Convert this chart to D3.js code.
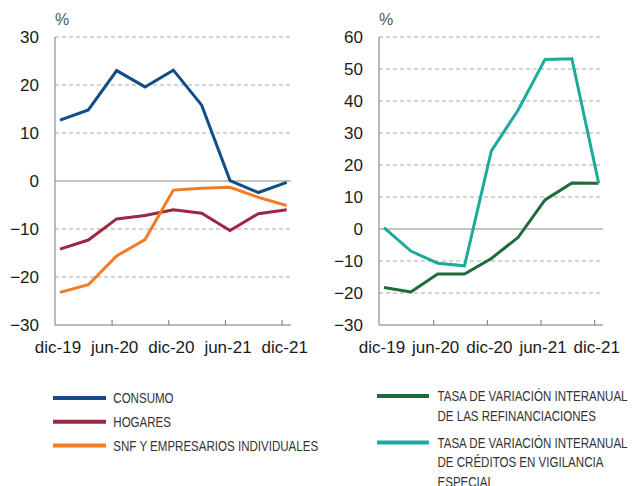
<!DOCTYPE html>
<html>
<head>
<meta charset="utf-8">
<script src="https://cdn.jsdelivr.net/npm/d3@7"></script>
<style>
  html, body { margin: 0; padding: 0; background: #fff; }
  svg { display: block; }
</style>
</head>
<body>
<svg id="chart" width="632" height="486"></svg>
<script>
// ---- Data ----
const periods = ["dic-19", "mar-20", "jun-20", "sep-20", "dic-20", "mar-21", "jun-21", "sep-21", "dic-21"];
const xTickLabels = ["dic-19", "jun-20", "dic-20", "jun-21", "dic-21"];

const consumo = [12.7, 14.8, 23.0, 19.6, 23.1, 15.8, 0.1, -2.4, -0.3];
const hogares = [-14.2, -12.3, -7.9, -7.2, -6.0, -6.7, -10.3, -6.8, -6.0];
const snf = [-23.2, -21.6, -15.6, -12.2, -1.9, -1.5, -1.3, -3.4, -5.1];

const refinanciaciones = [-18.3, -19.7, -14.1, -14.1, -9.2, -2.6, 9.1, 14.4, 14.3];
const vigilancia = [0.4, -6.9, -10.7, -11.5, 24.4, 37.2, 53.0, 53.2, 14.3];

const leftTicks = [-30, -20, -10, 0, 10, 20, 30];
const rightTicks = [-30, -20, -10, 0, 10, 20, 30, 40, 50, 60];

const leftSeries = [
  { name: ["CONSUMO"], values: consumo, color: "#124d85" },
  { name: ["HOGARES"], values: hogares, color: "#9c2843" },
  { name: ["SNF Y EMPRESARIOS INDIVIDUALES"], values: snf, color: "#f37b24" }
];
const rightSeries = [
  { name: ["TASA DE VARIACIÓN INTERANUAL", "DE LAS REFINANCIACIONES"], values: refinanciaciones, color: "#1d6b3b" },
  { name: ["TASA DE VARIACIÓN INTERANUAL", "DE CRÉDITOS EN VIGILANCIA", "ESPECIAL"], values: vigilancia, color: "#1baa9c" }
];

const svg = d3.select("#chart");
const baseFont = "'Liberation Sans', Arial, sans-serif";

function panel(cfg) {
  const g = svg.append("g");
  const x = d3.scaleLinear().domain([0, periods.length - 1]).range([cfg.x0, cfg.x1]);
  const y = d3.scaleLinear().domain([cfg.ticks[0], cfg.ticks[cfg.ticks.length - 1]]).range([325, 37]);

  // gridlines
  g.selectAll("line.grid").data(cfg.ticks.filter(t => t !== cfg.ticks[0]))
    .enter().append("line")
    .attr("x1", cfg.axisX).attr("x2", cfg.gridEnd)
    .attr("y1", d => y(d)).attr("y2", d => y(d))
    .attr("stroke", d => d === 0 ? "#8a8a8a" : "#a8a8a8")
    .attr("stroke-width", 1)
    .attr("stroke-dasharray", d => d === 0 ? null : "4,3");

  // y axis
  const yAxis = d3.axisLeft(y).tickValues(cfg.ticks).tickSize(0).tickPadding(16).tickFormat(d3.format("d"));
  const ya = g.append("g").attr("transform", `translate(${cfg.axisX},0)`).call(yAxis);
  ya.select(".domain").remove();
  ya.selectAll("text").attr("font-size", 17).attr("fill", "#1a1a1a").attr("font-family", baseFont);
  g.append("line").attr("x1", cfg.axisX).attr("x2", cfg.axisX).attr("y1", y(cfg.ticks[cfg.ticks.length - 1])).attr("y2", 325)
    .attr("stroke", "#777").attr("stroke-width", 1);

  // x axis
  g.append("line").attr("x1", cfg.axisX).attr("x2", cfg.gridEnd).attr("y1", 325).attr("y2", 325)
    .attr("stroke", "#777").attr("stroke-width", 1);
  const tickIdx = [0, 2, 4, 6, 8];
  g.selectAll("line.xt").data(tickIdx.slice(1)).enter().append("line")
    .attr("x1", d => x(d) - cfg.tickOff).attr("x2", d => x(d) - cfg.tickOff)
    .attr("y1", 325).attr("y2", 320).attr("stroke", "#777");
  g.selectAll("text.xl").data(tickIdx).enter().append("text")
    .attr("x", d => x(d) - 2).attr("y", 353)
    .attr("text-anchor", "middle").attr("font-size", 17)
    .attr("font-family", baseFont).attr("fill", "#1a1a1a")
    .text((d, i) => xTickLabels[i]);

  // % label
  g.append("text").attr("x", cfg.axisX).attr("y", 25).attr("font-size", 16)
    .attr("font-family", baseFont).attr("fill", "#555").text("%");

  // lines
  const line = d3.line().x((d, i) => x(i)).y(d => y(d));
  cfg.series.forEach(s => {
    g.append("path").datum(s.values).attr("d", line)
      .attr("fill", "none").attr("stroke", s.color).attr("stroke-width", 3)
      .attr("stroke-linejoin", "miter");
  });
}

panel({ x0: 60, x1: 286.7, axisX: 55, gridEnd: 291, ticks: leftTicks, series: leftSeries, tickOff: 4.6 });
panel({ x0: 384, x1: 598.7, axisX: 379, gridEnd: 603, ticks: rightTicks, series: rightSeries, tickOff: 4 });

// legends (condensed look via horizontal scaling)
function legend(series, starts, lx1, lx2, tx) {
  const lg = svg.append("g");
  series.forEach((s, i) => {
    const yy = starts[i];
    lg.append("line").attr("x1", lx1).attr("x2", lx2).attr("y1", yy).attr("y2", yy)
      .attr("stroke", s.color).attr("stroke-width", 4);
    s.name.forEach((t, j) => {
      lg.append("text")
        .attr("transform", `translate(${tx},${yy + 5.4 + j * 19.5}) scale(0.77,1)`)
        .attr("font-size", 15).attr("font-family", baseFont).attr("fill", "#333").text(t);
    });
  });
}
legend(leftSeries, [398, 421.8, 445.6], 53, 106, 113.3);
legend(rightSeries, [396, 442.5], 377, 429, 437.5);
</script>
</body>
</html>
